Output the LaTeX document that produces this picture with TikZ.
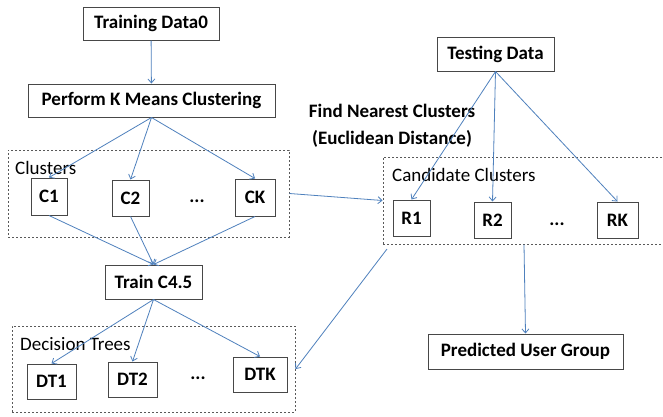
\documentclass[tikz,border=0pt]{standalone}
\usepackage{fontspec}
\setmainfont{Carlito}
\usetikzlibrary{arrows.meta,calc}
\definecolor{arrowblue}{RGB}{79,129,189}
\begin{document}
\begin{tikzpicture}[x=1pt,y=-1pt,
  box/.style={draw=black!72,line width=1pt,fill=white,inner sep=0pt,
    font=\bfseries\fontsize{19}{22}\selectfont},
  grp/.style={draw=black!65,line width=1pt,dash pattern=on 2pt off 2pt,
    inner sep=0pt},
  flow/.style={draw=arrowblue,line width=0.8pt,
    -{Straight Barb[length=4pt,width=7pt]}},
  lbl/.style={font=\fontsize{19}{22}\selectfont,anchor=west,inner sep=0pt},
  dots/.style={font=\bfseries\fontsize{19}{22}\selectfont,inner sep=0pt}]
\useasboundingbox[fill=white] (0,0) rectangle (663,416);

% dashed groups
\node[grp,minimum width=281pt,minimum height=87pt] (clusters) at (148.5,193.5) {};
\node[grp,minimum width=283pt,minimum height=86pt] (dtrees) at (153.5,369) {};
\node[grp,minimum width=282pt,minimum height=87pt] (cand) at (524,200.5) {};

\node[lbl] (lclu) at (15,168) {Clusters};
\node[lbl] (ldt) at (20,344) {Decision Trees};
\node[lbl] (lcand) at (392,175) {Candidate Clusters};

% training branch
\node[box,minimum width=136pt,minimum height=33pt] (train) at (151,23.5) {Training Data0};
\node[box,minimum width=247pt,minimum height=33pt] (kmeans) at (151.5,100.5) {Perform K Means Clustering};
\node[box,minimum width=36pt,minimum height=37pt] (c1) at (49,196.5) {C1};
\node[box,minimum width=37pt,minimum height=36pt] (c2) at (130.5,198) {C2};
\node[box,minimum width=40pt,minimum height=37pt] (ck) at (255,197.5) {CK};
\node[dots] (cdots) at (197,201) {...};
\node[box,minimum width=97pt,minimum height=34pt] (trainc) at (153.5,282) {Train C4.5};
\node[box,minimum width=49pt,minimum height=35pt] (dt1) at (51.5,381.5) {DT1};
\node[box,minimum width=49pt,minimum height=35pt] (dt2) at (132.5,379.5) {DT2};
\node[box,minimum width=54pt,minimum height=35pt] (dtk) at (260,374.5) {DTK};
\node[dots] (dtdots) at (198,378) {...};

% testing branch
\node[box,minimum width=117pt,minimum height=34pt] (test) at (495.5,54) {Testing Data};
\node[box,minimum width=37pt,minimum height=36pt] (r1) at (411.5,218) {R1};
\node[box,minimum width=37pt,minimum height=36pt] (r2) at (492.5,220) {R2};
\node[box,minimum width=41pt,minimum height=36pt] (rk) at (617.5,220) {RK};
\node[dots] (rdots) at (557,224) {...};
\node[box,minimum width=195pt,minimum height=35pt] (pred) at (525.5,351.5) {Predicted User Group};

\node[align=center,inner sep=0pt,font=\bfseries\fontsize{19}{27}\selectfont] (find) at (392,126)
  {Find Nearest Clusters\\(Euclidean Distance)};

\coordinate (candfoot) at (387,249);

% connectors
\draw[flow] (train) -- (kmeans);
\draw[flow] (kmeans.south) -- (c1.north);
\draw[flow] (kmeans.south) -- (c2.north);
\draw[flow] (kmeans.south) -- (ck.north);
\draw[flow] (c1.south) -- (trainc.north);
\draw[flow] (c2.south) -- (trainc.north);
\draw[flow] (ck.south) -- (trainc.north);
\draw[flow] (trainc.south) -- (dt1.north);
\draw[flow] (trainc.south) -- (dt2.north);
\draw[flow] (trainc.south) -- (dtk.north);
\draw[flow] (clusters.east) -- (cand.west);
\draw[flow] (test.south) -- (r1.north);
\draw[flow] (test.south) -- (r2.north);
\draw[flow] (test.south) -- (rk.north);
\draw[flow] (cand.south) -- (pred.north);
\draw[flow] (candfoot) -- (dtrees.east);
\end{tikzpicture}
\end{document}
